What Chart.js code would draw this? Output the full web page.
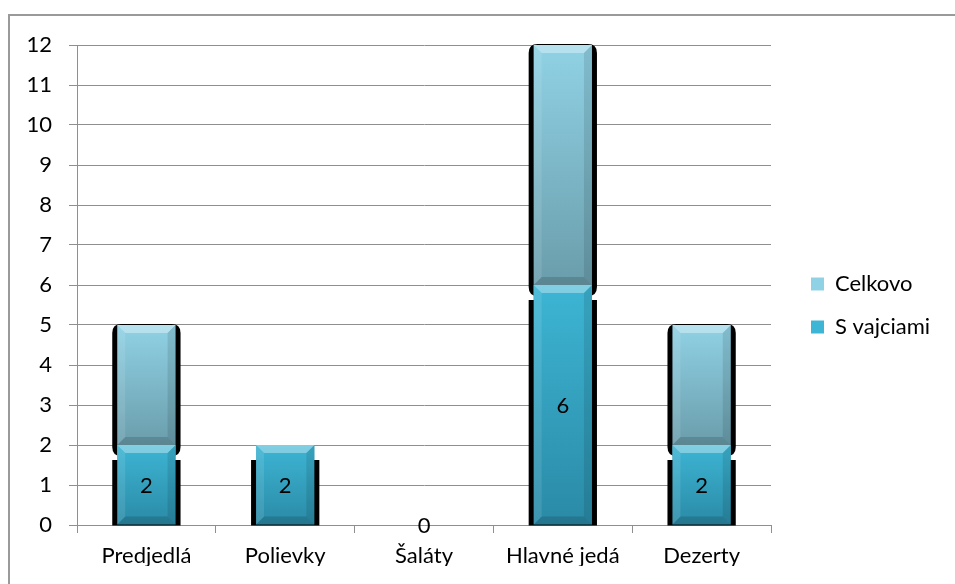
<!DOCTYPE html>
<html>
<head>
<meta charset="utf-8">
<script src="https://cdn.jsdelivr.net/npm/chart.js@4.4.1/dist/chart.umd.min.js"></script>
<style>
  html, body { margin: 0; padding: 0; background: #fff; overflow: hidden; }
  #wrap { position: relative; width: 955px; height: 584px; }
  #frame { position: absolute; left: 8px; top: 14px; width: 970px; height: 620px; border: 2px solid #9a9a9a; box-sizing: border-box; }
  #c { position: absolute; left: 0; top: 0; }
</style>
</head>
<body>
<div id="wrap">
  <div id="frame"></div>
  <canvas id="c" width="955" height="584"></canvas>
</div>
<script>
// data
const categories = ['Predjedlá', 'Polievky', 'Šaláty', 'Hlavné jedá', 'Dezerty'];
const celkovo = [5, 2, 0, 12, 5];
const sVajciami = [2, 2, 0, 6, 2];
const yTicks = [0, 1, 2, 3, 4, 5, 6, 7, 8, 9, 10, 11, 12];

const FONT = "Lato, 'Open Sans', sans-serif";
const FSIZE = 22;
const GRID = '#8f8f8f';

// vertical gradient over the visible part of a bar
function barGrad(c, top, bottom, c1, c2, flat) {
  const ch = c.chart;
  if (c.dataIndex === undefined || !ch.chartArea) return flat;
  const ys = ch.scales.y;
  const t = ys.getPixelForValue(top), b = ys.getPixelForValue(bottom);
  if (!isFinite(t) || !isFinite(b) || b - t < 1) return flat;
  const g = ch.ctx.createLinearGradient(0, t, 0, b);
  g.addColorStop(0, c1);
  g.addColorStop(1, c2);
  return g;
}

function roundRect(ctx, x, y, w, h, r) {
  ctx.beginPath();
  ctx.moveTo(x + r, y);
  ctx.lineTo(x + w - r, y);
  ctx.quadraticCurveTo(x + w, y, x + w, y + r);
  ctx.lineTo(x + w, y + h - r);
  ctx.quadraticCurveTo(x + w, y + h, x + w - r, y + h);
  ctx.lineTo(x + r, y + h);
  ctx.quadraticCurveTo(x, y + h, x, y + h - r);
  ctx.lineTo(x, y + r);
  ctx.quadraticCurveTo(x, y, x + r, y);
  ctx.closePath();
  ctx.fill();
}

function bevel(ctx, l, t, r, b, s) {
  if (b - t < 2 * s) s = Math.max(2, (b - t) / 2);
  const poly = (pts, fill) => {
    ctx.beginPath();
    ctx.moveTo(pts[0], pts[1]);
    for (let i = 2; i < pts.length; i += 2) ctx.lineTo(pts[i], pts[i + 1]);
    ctx.closePath();
    ctx.fillStyle = fill;
    ctx.fill();
  };
  poly([l, t, r, t, r - s, t + s, l + s, t + s], 'rgba(255,255,255,0.35)');
  poly([l, b, r, b, r - s, b - s, l + s, b - s], 'rgba(0,0,0,0.14)');
  poly([l, t, l + s, t + s, l + s, b - s, l, b], 'rgba(255,255,255,0.10)');
  poly([r, t, r - s, t + s, r - s, b - s, r, b], 'rgba(0,0,0,0.10)');
}

// black shadows, bevels and the value labels of "S vajciami"
const barFx = {
  id: 'barFx',
  afterLayout(chart) {
    // the legend sits a bit further from the plot than Chart.js puts it
    chart.legend.left += 19;
    chart.legend.right += 19;
  },
  beforeDatasetDraw(chart, args) {
    const ctx = chart.ctx;
    const inner = chart.getDatasetMeta(0);
    ctx.save();
    ctx.fillStyle = '#000';
    args.meta.data.forEach((bar, i) => {
      const { x, y, base, width } = bar.getProps(['x', 'y', 'base', 'width'], true);
      if (base - y < 1) return;
      const l = x - width / 2 - 5, w = width + 10;
      if (args.index === 1) {
        const sTop = inner.data[i].y;
        if (sTop - y < 2) return;
        roundRect(ctx, l, y - 1, w, sTop - y + 12, 9);
      } else {
        ctx.fillRect(l, y + 15, w, base - y - 14);
      }
    });
    ctx.restore();
  },
  afterDatasetDraw(chart, args) {
    const ctx = chart.ctx;
    const inner = chart.getDatasetMeta(0);
    ctx.save();
    args.meta.data.forEach((bar, i) => {
      const { x, y, base, width } = bar.getProps(['x', 'y', 'base', 'width'], true);
      const bottom = args.index === 1 ? inner.data[i].y : base;
      if (bottom - y < 2) return;
      bevel(ctx, x - width / 2, y, x + width / 2, bottom, 8);
    });
    ctx.restore();
  },
  afterDatasetsDraw(chart) {
    const ctx = chart.ctx;
    const meta = chart.getDatasetMeta(0);
    ctx.save();
    ctx.fillStyle = '#000';
    ctx.font = FSIZE + 'px ' + FONT;
    ctx.textAlign = 'center';
    ctx.textBaseline = 'middle';
    meta.data.forEach((bar, i) => {
      const { x, y, base } = bar.getProps(['x', 'y', 'base'], true);
      ctx.fillText(String(sVajciami[i]), x, (y + base) / 2 + 1);
    });
    ctx.restore();
  }
};

new Chart(document.getElementById('c'), {
  type: 'bar',
  data: {
    labels: categories,
    datasets: [
      {
        label: 'S vajciami',
        data: sVajciami,
        backgroundColor: (c) => barGrad(c, sVajciami[c.dataIndex], 0, '#3db5d4', '#2a8aa6', '#33a3c2'),
        barPercentage: 0.42,
        categoryPercentage: 1,
      },
      {
        label: 'Celkovo',
        data: celkovo,
        backgroundColor: (c) => barGrad(c, celkovo[c.dataIndex], sVajciami[c.dataIndex], '#90d2e5', '#6a9dab', '#7fb6c6'),
        barPercentage: 0.42,
        categoryPercentage: 1,
      },
    ],
  },
  options: {
    responsive: false,
    animation: false,
    layout: { padding: { top: 45, left: 0, right: 34, bottom: 18 } },
    plugins: {
      legend: {
        position: 'right',
        reverse: true,
        labels: { font: { family: FONT, size: FSIZE }, color: '#000', boxWidth: 13, boxHeight: 13, padding: 21 },
      },
      tooltip: { enabled: false },
    },
    scales: {
      x: {
        stacked: true,
        grid: { display: true, drawOnChartArea: false, drawTicks: true, tickLength: 8, color: GRID },
        border: { display: true, color: GRID },
        ticks: { font: { family: FONT, size: FSIZE }, color: '#000', padding: 10 },
        afterFit: (s) => { s.height = 41; },
      },
      y: {
        stacked: false,
        min: 0, max: 12,
        afterBuildTicks: (s) => { s.ticks = yTicks.map((v) => ({ value: v })); },
        grid: { color: GRID, tickLength: 8 },
        border: { display: true, color: GRID },
        ticks: { font: { family: FONT, size: FSIZE }, color: '#000', padding: 17 },
        afterFit: (s) => { s.width = 77; },
      },
    },
  },
  plugins: [barFx],
});
</script>
</body>
</html>
